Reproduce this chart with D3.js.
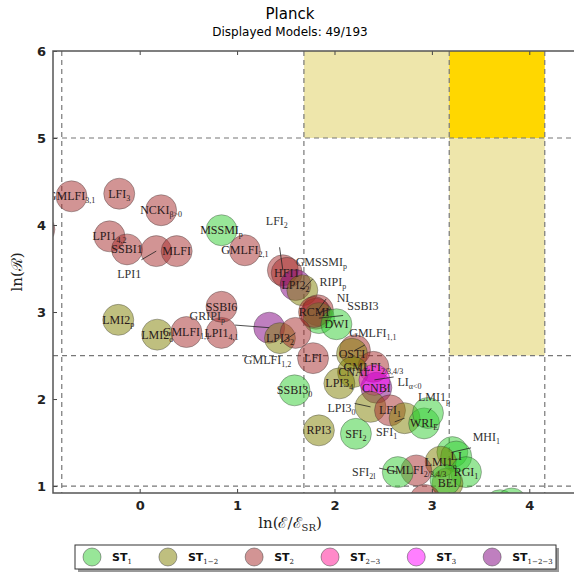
<!DOCTYPE html>
<html>
<head>
<meta charset="utf-8">
<script src="https://cdn.jsdelivr.net/npm/d3@7"></script>
<style>
  body { margin: 0; background: #fff; }
  svg { display: block; }
  .tick text { font-family: "DejaVu Sans", sans-serif; font-weight: bold; font-size: 13px; fill: #222; }
  .tick line { stroke: #444; }
  .domain { display: none; }
</style>
</head>
<body>
<svg width="574" height="574"></svg>
<script>
const width = 574;
const height = 574;
const svg = d3.select("svg");

// Modelos: nome, subscrito, tipo de reaquecimento e posição
const names = ["", "GMLFI", "LFI", "NCKI", "LPI1", "SSBI1", "LPI1", "MLFI", "MSSMI", "GMLFI",
  "LFI", "HFI1", "LPI2", "GMSSMI", "RIPI", "NI", "SSBI3", "RCMI", "DWI", "GRIPI",
  "LPI3", "GMLFI", "LFI", "SSBI3", "RPI3", "SFI", "GMLFI", "OSTI", "GMLFI", "CNAI",
  "LPI3", "CNBI", "LI", "LPI3", "LFI", "SFI", "WRI", "LMI1", "MHI", "LI",
  "LMI1", "RGI", "BEI", "", "GMLFI", "SFI", "", "", "", "LMI2",
  "LMI2", "GMLFI", "LPI1", "SSBI6"];
const subs = ["", "3,1", "3", "β>0", "4,2", "", "", "", "p", "2,1",
  "2", "", "2", "p", "p", "", "", "", "", "p",
  "2", "1,2", "", "0", "", "2", "1,1", "", "2/3,4/3", "",
  "4", "", "α<0", "0", "1", "1", "E", "p", "1", "",
  "o", "1", "", "", "2/3,4/3", "2l", "", "", "", "p",
  "o", "1,1", "4,1", ""];
const types = ["ST2", "ST2", "ST2", "ST2", "ST2", "ST2", "ST2", "ST2", "ST1", "ST2",
  "ST2", "ST2", "ST123", "ST12", "ST2", "ST2", "ST1", "ST2", "ST1", "ST123",
  "ST12", "ST2", "ST2", "ST1", "ST12", "ST1", "ST2", "ST12", "ST2", "ST12",
  "ST12", "ST123", "ST3", "ST12", "ST2", "ST12", "ST1", "ST1", "ST1", "ST1",
  "ST12", "ST1", "ST12", "ST1", "ST2", "ST1", "ST2", "ST1", "ST1", "ST12",
  "ST12", "ST2", "ST2", "ST2"];
const lnE = [-1.03, -0.70, -0.21, 0.22, -0.31, -0.13, 0.17, 0.38, 0.84, 1.08,
  1.47, 1.51, 1.60, 1.67, 1.83, 1.81, 1.84, 1.79, 2.02, 1.33,
  1.44, 1.60, 1.78, 1.59, 1.84, 2.22, 2.21, 2.18, 2.40, 2.19,
  2.05, 2.43, 2.41, 2.37, 2.57, 2.72, 2.92, 2.96, 3.21, 3.25,
  3.09, 3.35, 3.16, 3.14, 2.84, 2.65, 2.93, 3.70, 3.82, -0.22,
  0.18, 0.48, 0.84, 0.84];
const lnR = [3.95, 4.33, 4.36, 4.17, 3.87, 3.72, 3.70, 3.70, 3.94, 3.71,
  3.48, 3.45, 3.31, 3.25, 3.02, 2.98, 2.93, 3.00, 2.86, 2.82,
  2.70, 2.76, 2.47, 2.10, 1.64, 1.60, 2.56, 2.52, 2.37, 2.31,
  2.18, 2.13, 2.22, 1.91, 1.87, 1.78, 1.72, 1.84, 1.39, 1.34,
  1.28, 1.16, 1.03, 1.07, 1.18, 1.16, 0.84, 0.78, 0.80, 2.91,
  2.74, 2.77, 2.76, 3.06];

// Rótulos deslocados (índice -> [dx, dy] em px) com linha de chamada
const labelNudge = {
  6: [-27, 23], 10: [-6, -49], 13: [19, -28], 14: [15, -28], 15: [27, -16],
  16: [44, -12], 19: [-62, -12], 21: [-28, 27], 26: [18, -17], 32: [35, 2],
  33: [-29, 1], 35: [-18, 14], 37: [6, -16], 38: [34, -15], 45: [-34, 0]
};

// Faixas e linhas de referência
const dashX = [-0.80, 1.686, 3.178, 4.159];
const dashY = [1, 2.5, 5];
const xTicks = [0, 1, 2, 3, 4];
const yTicks = [1, 2, 3, 4, 5, 6];

const legendKeys = ["ST1", "ST12", "ST2", "ST23", "ST3", "ST123"];
const legendSubs = ["1", "1−2", "2", "2−3", "3", "1−2−3"];
const colors = {
  ST1: "#32cd32", ST12: "#808000", ST2: "#a52a2a",
  ST23: "#ff1493", ST3: "#ff00ff", ST123: "#800080"
};

const x = d3.scaleLinear().domain([-0.89, 4.6]).range([53, 53 + 5.49 * 97.4]);
const y = d3.scaleLinear().domain([0.92, 6]).range([493, 51]);
const x0 = x.range()[0], x1 = x.range()[1];
const y0 = y.range()[0], y1 = y.range()[1];

svg.append("defs").append("clipPath").attr("id", "plot")
  .append("rect").attr("x", x0).attr("y", y1).attr("width", x1 - x0).attr("height", y0 - y1);

// Título
svg.append("text").attr("x", 290).attr("y", 19).attr("text-anchor", "middle")
  .style("font-family", "DejaVu Sans, sans-serif").style("font-size", "15px").text("Planck");
svg.append("text").attr("x", 290).attr("y", 36).attr("text-anchor", "middle")
  .style("font-family", "DejaVu Sans, sans-serif").style("font-size", "12px").text("Displayed Models: 49/193");

const plot = svg.append("g").attr("clip-path", "url(#plot)");

// Regiões amarelas
plot.append("rect").attr("x", x(dashX[1])).attr("y", y(6)).attr("width", x(dashX[2]) - x(dashX[1]))
  .attr("height", y(5) - y(6)).attr("fill", "#eee6ab");
plot.append("rect").attr("x", x(dashX[2])).attr("y", y(5)).attr("width", x(dashX[3]) - x(dashX[2]))
  .attr("height", y(2.5) - y(5)).attr("fill", "#eee6ab");
plot.append("rect").attr("x", x(dashX[2])).attr("y", y(6)).attr("width", x(dashX[3]) - x(dashX[2]))
  .attr("height", y(5) - y(6)).attr("fill", "#ffd700");

// Linhas tracejadas
plot.selectAll(".vdash").data(dashX).join("line")
  .attr("x1", d => x(d)).attr("x2", d => x(d)).attr("y1", y1).attr("y2", y0)
  .attr("stroke", "#777").attr("stroke-dasharray", "5,4").attr("stroke-width", 1.2);
plot.selectAll(".hdash").data(dashY).join("line")
  .attr("x1", x0).attr("x2", x1).attr("y1", d => y(d)).attr("y2", d => y(d))
  .attr("stroke", "#777").attr("stroke-dasharray", "5,4").attr("stroke-width", 1.2);

const models = names.map((n, i) => ({
  name: n, sub: subs[i], type: types[i], cx: x(lnE[i]), cy: y(lnR[i]), nudge: labelNudge[i]
}));

// Círculos
plot.selectAll("circle").data(models).join("circle")
  .attr("cx", d => d.cx).attr("cy", d => d.cy).attr("r", 15.5)
  .attr("fill", d => colors[d.type]).attr("fill-opacity", 0.5)
  .attr("stroke", "#333").attr("stroke-opacity", 0.45).attr("stroke-width", 0.8);

// Linhas de chamada
const labeled = models.filter(d => d.name);
plot.selectAll(".leader").data(labeled.filter(d => d.nudge)).join("line")
  .attr("x1", d => d.cx + d.nudge[0] * 0.55).attr("y1", d => d.cy + d.nudge[1] * 0.55 + (d.nudge[1] < 0 ? 4 : -4))
  .attr("x2", d => d.cx).attr("y2", d => d.cy)
  .attr("stroke", "#222").attr("stroke-width", 0.8);

// Rótulos
const lab = plot.selectAll(".lab").data(labeled).join("text")
  .attr("x", d => d.cx + (d.nudge ? d.nudge[0] : 0))
  .attr("y", d => d.cy + (d.nudge ? d.nudge[1] : 0) + 4)
  .attr("text-anchor", "middle")
  .style("font-family", "Liberation Serif, serif").style("font-size", "12px")
  .attr("fill", d => d.nudge ? "#333" : "#2a1a1a");
lab.append("tspan").text(d => d.name);
lab.append("tspan").attr("dy", 3).style("font-size", "8px").text(d => d.sub);

// Eixos
svg.append("g").attr("transform", `translate(${x0},0)`)
  .call(d3.axisLeft(y).tickValues(yTicks).tickFormat(d3.format("d")).tickSize(-4).tickPadding(7));
svg.append("g").attr("transform", `translate(0,${y0})`)
  .call(d3.axisBottom(x).tickValues(xTicks).tickFormat(d3.format("d")).tickSize(-4).tickPadding(8));
svg.append("g").attr("transform", `translate(0,${y1})`)
  .call(d3.axisTop(x).tickValues(xTicks).tickFormat("").tickSize(-4));

svg.append("rect").attr("x", x0).attr("y", y1).attr("width", x1 - x0).attr("height", y0 - y1)
  .attr("fill", "none").attr("stroke", "#555").attr("stroke-width", 1.5);

// Rótulos dos eixos
svg.append("text").attr("transform", "translate(22,272) rotate(-90)").attr("text-anchor", "middle")
  .style("font-family", "DejaVu Serif, serif").style("font-size", "15px").attr("fill", "#222")
  .text("ln(ℛ)");
const xl = svg.append("text").attr("x", 290).attr("y", 528).attr("text-anchor", "middle")
  .style("font-family", "DejaVu Serif, serif").style("font-size", "15px").attr("fill", "#222");
xl.append("tspan").text("ln(ℰ/ℰ");
xl.append("tspan").attr("dy", 3).style("font-size", "10px").text("SR");
xl.append("tspan").attr("dy", -3).text(")");

// Legenda
const leg = svg.append("g");
leg.append("rect").attr("x", 78).attr("y", 548).attr("width", 481).attr("height", 24).attr("fill", "#999");
leg.append("rect").attr("x", 75).attr("y", 545).attr("width", 481).attr("height", 24)
  .attr("fill", "#fff").attr("stroke", "#333").attr("stroke-width", 1);
let lx = 92;
legendKeys.forEach((k, i) => {
  leg.append("circle").attr("cx", lx).attr("cy", 557).attr("r", 9)
    .attr("fill", colors[k]).attr("fill-opacity", 0.5).attr("stroke", "#333").attr("stroke-opacity", 0.45);
  const t = leg.append("text").attr("x", lx + 20).attr("y", 561)
    .style("font-family", "DejaVu Sans, sans-serif").style("font-size", "11px").attr("fill", "#111");
  t.append("tspan").style("font-weight", "bold").text("ST");
  t.append("tspan").attr("dy", 3).style("font-size", "7px").style("font-family", "DejaVu Serif, serif").text(legendSubs[i]);
  lx += 20 + t.node().getComputedTextLength() + 36;
});
</script>
</body>
</html>
